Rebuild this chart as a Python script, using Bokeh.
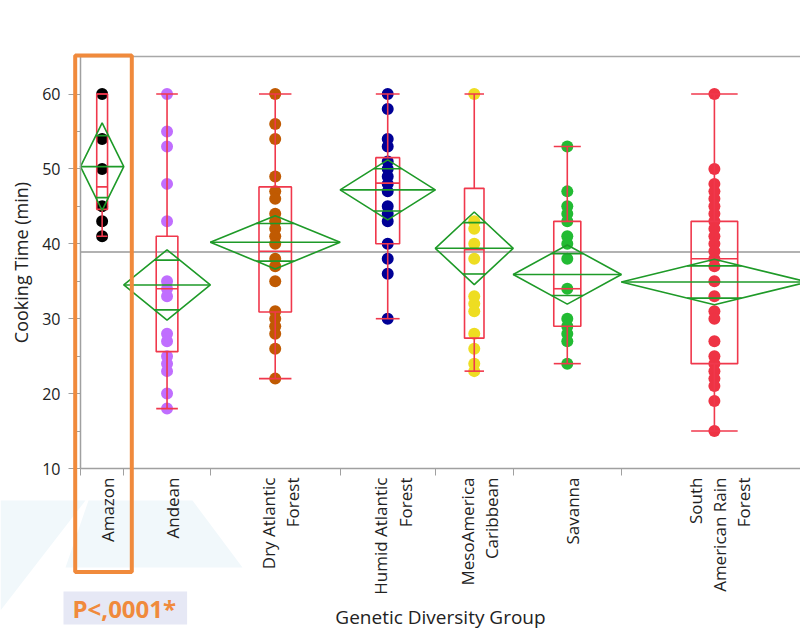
import math
from bokeh.plotting import figure
from bokeh.models import (Range1d, FixedTicker, BoxAnnotation, Label,
                          ColumnDataSource, CustomJSTickFormatter)
from bokeh.embed import file_html
from bokeh.resources import INLINE

# ---------------- data ----------------
groups = ["Amazon", "Andean", "Dry Atlantic\nForest", "Humid Atlantic\nForest",
          "MesoAmerica\nCaribbean", "Savanna", "South\nAmerican Rain\nForest"]
n_obs = [10, 20, 30, 22, 18, 25, 43]
colors = ["#000000", "#C06EFF", "#C05A02", "#000096", "#EEDD22", "#22BB33", "#EE3344"]

amazon = [60, 54, 50, 45, 43, 41]
andean = [60, 55, 53, 48, 43, 35, 34, 33, 28, 27, 25, 24, 23, 20, 18]
dry_atlantic = [60, 56, 54, 49, 47, 46, 44, 43, 42, 41, 40, 38, 37, 35, 31, 30, 29, 28, 26, 22]
humid_atlantic = [60, 58, 54, 53, 51, 50, 49, 48, 47, 45, 44, 43, 40, 38, 36, 30]
meso_caribbean = [60, 43, 42, 40, 38, 33, 32, 31, 28, 26, 24, 23]
savanna = [53, 47, 45, 44, 43, 41, 40, 38, 34, 30, 29, 28, 27, 24]
sa_rain_forest = [60, 50, 48, 47, 46, 45, 44, 43, 42, 41, 40, 39, 38, 37, 35, 33, 31, 30,
                  27, 25, 24, 23, 22, 21, 19, 15]
points = [amazon, andean, dry_atlantic, humid_atlantic, meso_caribbean, savanna, sa_rain_forest]

means = [50.3, 34.5, 40.2, 47.2, 39.4, 35.9, 34.9]
ci_half = [5.85, 4.7, 3.55, 4.0, 4.85, 3.95, 3.05]
q1 = [44.6, 25.6, 30.9, 40.0, 27.4, 29.0, 24.0]
medians = [47.6, 34.0, 39.0, 48.1, 39.2, 34.0, 38.0]
q3 = [60.0, 41.0, 47.6, 51.5, 47.4, 43.0, 43.0]
whisk_lo = [41, 18, 22, 30, 23, 24, 15]
whisk_hi = [60, 60, 60, 60, 60, 53, 60]
grand_mean = 38.9
y_ticks = [10, 20, 30, 40, 50, 60]
y_minor = [15, 25, 35, 45, 55]
p_value_text = "P<,0001*"

# ---------------- geometry ----------------
W, H = 800, 635
X_PX, X0_PX = 4.327, 80      # px per count unit, px of the left axis
Y_PX, Y0_PX = 7.49, 468      # px per minute, px of the value 10
Y_LO, Y_HI = 10, 65

def ux(px):
    return (px - X0_PX) / X_PX

def vy(py):
    return Y_LO + (Y0_PX - py) / Y_PX

bounds = [0]
for n in n_obs:
    bounds.append(bounds[-1] + n)
centers = [bounds[i] + n_obs[i] / 2 for i in range(len(n_obs))]
x_end = ux(W)

RED = "#F0384C"
GREEN = "#1E9A28"
GRAY = "#A0A0A0"
ORANGE = "#F08A3C"
FONT = "Open Sans"
TXT = "#222222"

p = figure(width=W, height=H, x_range=Range1d(ux(0), x_end), y_range=Range1d(vy(H), vy(0)),
           output_backend="svg", toolbar_location=None,
           min_border_left=0, min_border_right=0, min_border_top=0, min_border_bottom=0,
           x_axis_label="Genetic Diversity Group", y_axis_label="Cooking Time (min)")
p.outline_line_color = None
p.xgrid.visible = False
p.ygrid.visible = False
p.background_fill_color = "white"
p.border_fill_color = "white"

# faint slide watermark shapes
p.patches(xs=[[ux(0), ux(85), ux(0)], [ux(88), ux(192), ux(242), ux(65)]],
          ys=[[vy(500), vy(500), vy(610)], [vy(500), vy(500), vy(567), vy(567)]],
          fill_color="#F1F8FB", line_alpha=0)

# frame top border and grand mean
p.segment(x0=[0, 0], x1=[x_end, x_end], y0=[Y_HI, grand_mean], y1=[Y_HI, grand_mean],
          line_color=["#A8A8A8", "#999999"], line_width=1.6)

# points
px_, py_, pc_ = [], [], []
for i, vals in enumerate(points):
    for v in vals:
        px_.append(centers[i]); py_.append(v); pc_.append(colors[i])
p.scatter(x="x", y="y", color="c", source=ColumnDataSource(dict(x=px_, y=py_, c=pc_)),
          size=12, line_alpha=0)

# quantile boxes
bw = [n * 0.125 for n in n_obs]
bl = [c - w for c, w in zip(centers, bw)]
br = [c + w for c, w in zip(centers, bw)]
p.quad(left=bl, right=br, bottom=q1, top=q3, fill_alpha=0, line_color=RED, line_width=1.6)
p.segment(x0=bl, x1=br, y0=medians, y1=medians, line_color=RED, line_width=1.6)
p.segment(x0=centers, x1=centers, y0=q3, y1=whisk_hi, line_color=RED, line_width=1.6)
p.segment(x0=centers, x1=centers, y0=q1, y1=whisk_lo, line_color=RED, line_width=1.6)
p.segment(x0=bl, x1=br, y0=whisk_hi, y1=whisk_hi, line_color=RED, line_width=1.6)
p.segment(x0=bl, x1=br, y0=whisk_lo, y1=whisk_lo, line_color=RED, line_width=1.6)

# means diamonds
dxs, dys = [], []
for c, n, m, h in zip(centers, n_obs, means, ci_half):
    hw = n / 2
    dxs.append([c - hw, c, c + hw, c])
    dys.append([m, m + h, m, m - h])
p.patches(xs=dxs, ys=dys, fill_alpha=0, line_color=GREEN, line_width=1.6)
p.segment(x0=[c - n / 2 for c, n in zip(centers, n_obs)], x1=[c + n / 2 for c, n in zip(centers, n_obs)],
          y0=means, y1=means, line_color=GREEN, line_width=1.6)
k = math.sqrt(2) / 2
ox0, ox1, oy = [], [], []
for c, n, m, h in zip(centers, n_obs, means, ci_half):
    hw = n / 2 * (1 - k)
    for s in (1, -1):
        ox0.append(c - hw); ox1.append(c + hw); oy.append(m + s * h * k)
p.segment(x0=ox0, x1=ox1, y0=oy, y1=oy, line_color=GREEN, line_width=1.6)

# y axis (drawn at the left edge of the data area)
ya = p.left[0]
ya.fixed_location = 0
ya.bounds = (Y_LO, Y_HI)
ya.ticker = FixedTicker(ticks=y_ticks, minor_ticks=y_minor)
ya.axis_line_color = GRAY
ya.axis_line_width = 1.5
ya.major_tick_line_color = GRAY
ya.minor_tick_line_color = GRAY
ya.major_tick_out = 12
ya.major_tick_in = 0
ya.minor_tick_out = 4
ya.minor_tick_in = 0
ya.major_label_standoff = 8
ya.major_label_text_font = FONT
ya.major_label_text_font_size = "16px"
ya.major_label_text_color = TXT
ya.axis_label_text_font = FONT
ya.axis_label_text_font_size = "18px"
ya.axis_label_text_font_style = "normal"
ya.axis_label_text_color = TXT
ya.axis_label_standoff = 6

# x axis (drawn at the bottom of the data area)
label_shift = 1.2
xa = p.below[0]
xa.fixed_location = Y_LO
xa.bounds = (0, x_end)
xa.ticker = FixedTicker(ticks=[c + label_shift for c in centers], minor_ticks=bounds)
xa.formatter = CustomJSTickFormatter(args=dict(centers=[c + label_shift for c in centers], labels=groups), code="""
let best = 0, bd = 1e9;
for (let i = 0; i < centers.length; i++) { const d = Math.abs(centers[i] - tick); if (d < bd) { bd = d; best = i; } }
return bd < 0.01 ? labels[best] : "";
""")
xa.major_label_orientation = math.pi / 2
xa.axis_line_color = GRAY
xa.axis_line_width = 1.5
xa.major_tick_out = 0
xa.major_tick_in = 0
xa.minor_tick_out = 7
xa.minor_tick_in = 0
xa.minor_tick_line_color = GRAY
xa.major_label_standoff = 2
xa.major_label_text_font = FONT
xa.major_label_text_font_size = "17px"
xa.major_label_text_color = TXT
xa.major_label_text_line_height = 1.06
xa.axis_label_text_font = FONT
xa.axis_label_text_font_size = "19px"
xa.axis_label_text_font_style = "normal"
xa.axis_label_text_color = TXT
xa.axis_label_standoff = 6

# highlight of the Amazon group and the p-value
p.add_layout(BoxAnnotation(left=ux(74.7), right=ux(131.3), top=vy(55), bottom=vy(571.5),
                           fill_alpha=0, line_alpha=1, line_color=ORANGE, line_width=4))
p.add_layout(Label(x=ux(63), y=vy(607.5), text=p_value_text, text_color=ORANGE,
                   text_font=FONT, text_font_size="24px", text_font_style="bold",
                   text_baseline="middle", text_align="left",
                   background_fill_color="#E6E8F5", padding=(9, 11, 0, 0)))

open("out.html", "w").write(file_html(p, INLINE))
